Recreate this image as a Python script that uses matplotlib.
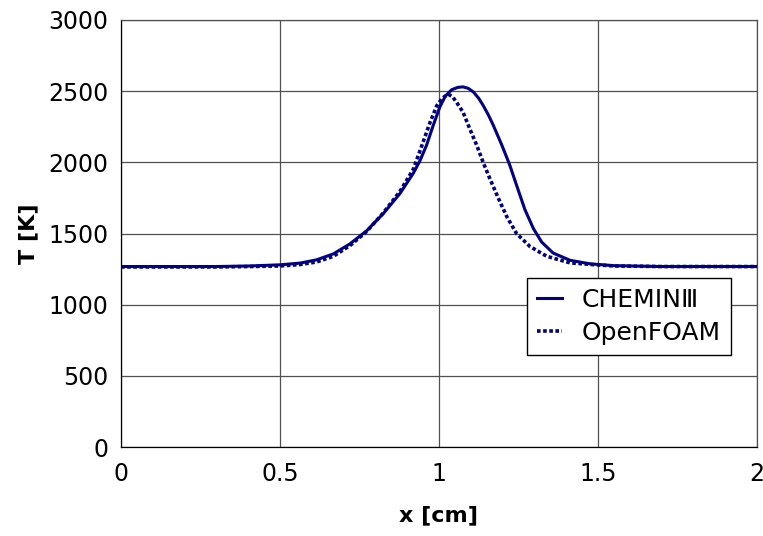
import matplotlib
matplotlib.use('Agg')
import matplotlib.pyplot as plt

plt.rcParams['font.family'] = ['DejaVu Sans', 'Noto Sans CJK JP']

# CHEMIN III result
x_chemin = [0.0, 0.3, 0.406, 0.5, 0.563, 0.615, 0.668, 0.72, 0.773, 0.825, 0.877, 0.919,
            0.94, 0.961, 0.982, 1.003, 1.02, 1.04, 1.06, 1.076, 1.092, 1.108, 1.125,
            1.139, 1.155, 1.171, 1.197, 1.222, 1.244, 1.27, 1.297, 1.323, 1.359,
            1.412, 1.475, 1.55, 1.7, 2.0]
t_chemin = [1268, 1268, 1272, 1280, 1292, 1315, 1357, 1427, 1520, 1640, 1780, 1922,
            2010, 2120, 2260, 2390, 2465, 2510, 2527, 2530, 2520, 2495, 2450,
            2400, 2335, 2260, 2125, 1985, 1840, 1670, 1535, 1440, 1363,
            1312, 1287, 1274, 1268, 1268]

# OpenFOAM result
x_foam = [0.0, 0.3, 0.406, 0.5, 0.563, 0.615, 0.668, 0.72, 0.773, 0.825, 0.877, 0.919,
          0.945, 0.972, 0.993, 1.01, 1.029, 1.043, 1.056, 1.076, 1.097, 1.119, 1.139,
          1.16, 1.187, 1.213, 1.244, 1.286, 1.339, 1.412, 1.475, 1.55, 1.7, 2.0]
t_foam = [1265, 1265, 1268, 1272, 1282, 1300, 1340, 1415, 1515, 1645, 1795, 1950,
          2110, 2281, 2397, 2450, 2479, 2460, 2420, 2351, 2235, 2119, 2000,
          1886, 1747, 1620, 1500, 1409, 1340, 1294, 1283, 1272, 1268, 1268]

xticks = [0, 0.5, 1, 1.5, 2]
xticklabels = ['0', '0.5', '1', '1.5', '2']
yticks = [0, 500, 1000, 1500, 2000, 2500, 3000]

navy = '#000080'

fig = plt.figure(figsize=(7.63, 5.36), dpi=100)
ax = fig.add_axes([0.1586, 0.166, 0.8334, 0.7967])

ax.plot(x_chemin, t_chemin, color=navy, lw=2.2, label='CHEMINⅢ')
ax.plot(x_foam, t_foam, color=navy, lw=2.6, linestyle=(0, (1, 0.7)),
        dash_capstyle='butt', label='OpenFOAM')

ax.set_xlim(0, 2)
ax.set_ylim(0, 3000)
ax.set_xticks(xticks)
ax.set_xticklabels(xticklabels)
ax.set_yticks(yticks)
ax.grid(True, color='#505050', lw=0.9)
ax.tick_params(length=0, labelsize=17)
ax.tick_params(axis='x', pad=11)
ax.tick_params(axis='y', pad=9)
for s in ax.spines.values():
    s.set_color('#505050')
    s.set_linewidth(0.9)
ax.spines['left'].set_color('black')
ax.spines['bottom'].set_color('black')

ax.set_xlabel('x [cm]', fontsize=16, fontweight='bold')
ax.set_ylabel('T [K]', fontsize=16, fontweight='bold')
ax.xaxis.set_label_coords(0.5, -0.136)
ax.yaxis.set_label_coords(-0.13, 0.5)

leg = ax.legend(loc='upper left', bbox_to_anchor=(0.638, 0.396), borderaxespad=0,
                fontsize=18, frameon=True, fancybox=False, framealpha=1,
                edgecolor='black', handlelength=1.0, borderpad=0.4,
                labelspacing=0.35, handletextpad=0.8)
leg.get_frame().set_linewidth(1.0)

fig.savefig('out.png', dpi=100)
